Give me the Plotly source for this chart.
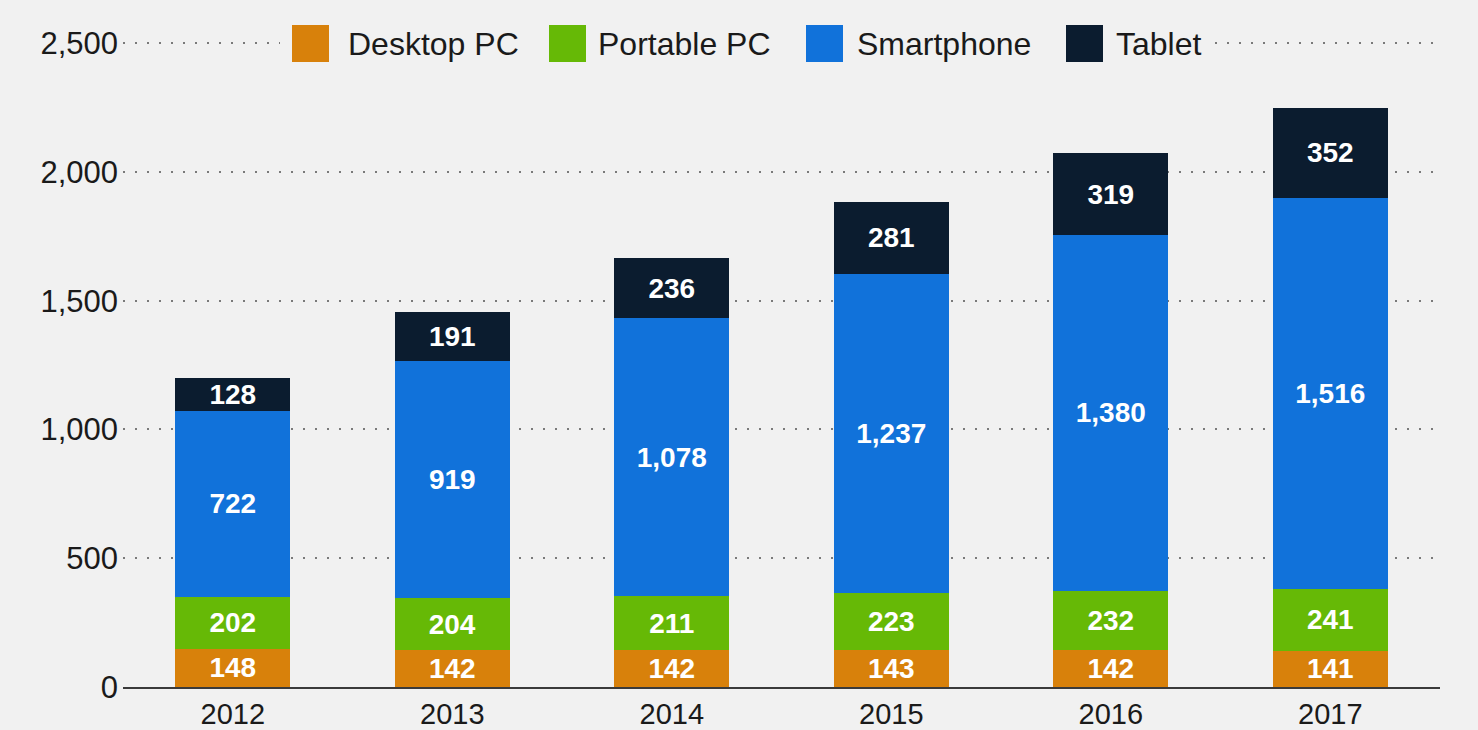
import plotly.graph_objects as go

years = ["2012", "2013", "2014", "2015", "2016", "2017"]
series_names = ["Desktop PC", "Portable PC", "Smartphone", "Tablet"]
desktop = [148, 142, 142, 143, 142, 141]
portable = [202, 204, 211, 223, 232, 241]
smartphone = [722, 919, 1078, 1237, 1380, 1516]
tablet = [128, 191, 236, 281, 319, 352]
y_ticks = [0, 500, 1000, 1500, 2000, 2500]

colors = ["#d8810b", "#66b906", "#1172da", "#0b1c2f"]
values = [desktop, portable, smartphone, tablet]

BG = "#f1f1f1"
FONT = "Liberation Sans, Arial, sans-serif"

fig = go.Figure()
for name, vals, col in zip(series_names, values, colors):
    fig.add_trace(go.Bar(
        x=years, y=vals, name=name, marker=dict(color=col, line=dict(width=0)),
        text=vals, texttemplate="%{y:,}", textposition="inside",
        insidetextanchor="middle", textangle=0, constraintext="none",
        textfont=dict(color="white", size=28, family=FONT, weight="bold"),
        showlegend=False, hoverinfo="x+y+name",
    ))

# Layout geometry (pixels)
W, H = 1478, 730
Y_TOP = 2520
ml, mr, mt, mb = 123, 38, 38, 43
pw = W - ml - mr
ph = H - mt - mb

def px_to_paper_x(px):
    return (px - ml) / pw

def py_to_paper_y(py):
    return (H - mb - py) / ph

shapes = []
annotations = []
# cover the top gridline behind the legend
shapes.append(dict(type="rect", xref="paper", yref="paper",
                   x0=px_to_paper_x(280), x1=px_to_paper_x(1212),
                   y0=py_to_paper_y(60), y1=py_to_paper_y(26),
                   fillcolor=BG, line=dict(width=0), layer="above"))
swatch_x = [292, 549, 806, 1066]
text_x = [346, 596, 855, 1114]
for name, col, sx, tx in zip(series_names, colors, swatch_x, text_x):
    shapes.append(dict(type="rect", xref="paper", yref="paper",
                       x0=px_to_paper_x(sx), x1=px_to_paper_x(sx + 37),
                       y0=py_to_paper_y(62), y1=py_to_paper_y(25),
                       fillcolor=col, line=dict(width=0), layer="above"))
    annotations.append(dict(text=name, xref="paper", yref="paper",
                            x=px_to_paper_x(tx), y=py_to_paper_y(44),
                            xanchor="left", yanchor="middle", showarrow=False,
                            font=dict(size=32, color="#1a1a1a", family=FONT)))

fig.update_layout(
    width=W, height=H,
    margin=dict(l=ml, r=mr, t=mt, b=mb, pad=0),
    paper_bgcolor=BG, plot_bgcolor=BG,
    barmode="stack", bargap=0.476,
    font=dict(family=FONT, color="#1a1a1a"),
    shapes=shapes, annotations=annotations,
    showlegend=False,
    xaxis=dict(showline=True, linecolor="#3a3a3a", linewidth=2, ticks="",
               tickfont=dict(size=29, color="#1a1a1a"), showgrid=False,
               range=[-0.5, 5.5], fixedrange=True, automargin=False),
    yaxis=dict(range=[0, Y_TOP], tickvals=y_ticks, tickformat=",",
               showgrid=True, gridcolor="#7a7a7a", gridwidth=1.5,
               griddash="2px,10px", zeroline=False, ticks="",
               ticklabelstandoff=4,
               tickfont=dict(size=31, color="#1a1a1a"), fixedrange=True,
               automargin=False),
)

fig.write_html("out.html")
